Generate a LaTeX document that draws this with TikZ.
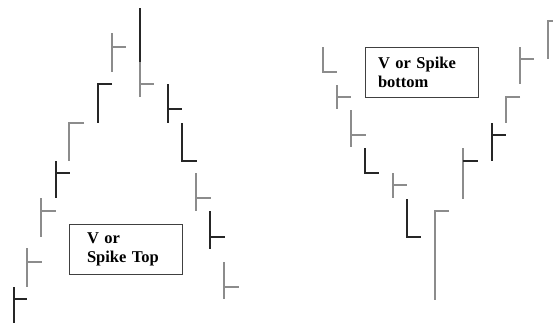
\documentclass[tikz,border=0pt]{standalone}
\usepackage{fontspec}
\setmainfont{Liberation Serif}

\tikzset{
  blk/.style={line width=1.3pt, color=black!85},
  gry/.style={line width=1.3pt, color=black!45},
  lbl/.style={draw, line width=0.9pt, color=black!75, text=black, font=\bfseries\fontsize{16.5}{19}\selectfont, align=left, minimum height=50pt, inner ysep=0pt}
}

\begin{document}
\begin{tikzpicture}[x=1pt, y=-1pt]
\useasboundingbox (0,0) rectangle (553,325);

% left: spike top
\draw [blk] (14,287) -- (14,323) (14,299) -- (27,299);
\draw [gry] (27,248) -- (27,287) (27,262) -- (42,262);
\draw [gry] (41,198) -- (41,237) (41,211) -- (56,211);
\draw [blk] (56,161) -- (56,198) (56,173) -- (70,173);
\draw [gry] (84,123) -- (69,123) -- (69,161);
\draw [blk] (112,84) -- (98,84) -- (98,123);
\draw [gry] (112,33) -- (112,72) (112,47) -- (126,47);
\draw [blk] (140,8) -- (140,62);
\draw [gry] (140,62) -- (140,97) (140,84) -- (154,84);
\draw [blk] (168,84) -- (168,123) (168,109) -- (182,109);
\draw [blk] (182,123) -- (182,161) -- (197,161);
\draw [gry] (196,173) -- (196,211) (196,198) -- (211,198);
\draw [blk] (210,211) -- (210,249) (210,237) -- (225,237);
\draw [gry] (224,262) -- (224,299) (224,287) -- (239,287);

\node [lbl, text width=77pt, inner xsep=18pt] (top) at (125.5,249) {V or\\Spike Top};

% right: spike bottom
\draw [gry] (323,47) -- (323,72) -- (337,72);
\draw [gry] (337,85) -- (337,109) (337,97) -- (351,97);
\draw [gry] (351,110) -- (351,147) (351,135) -- (366,135);
\draw [blk] (365,148) -- (365,173) -- (379,173);
\draw [gry] (393,173) -- (393,198) (393,185) -- (407,185);
\draw [blk] (407,199) -- (407,237) -- (421,237);
\draw [gry] (449,211) -- (435,211) -- (435,300);
\draw [gry] (463,148) -- (463,199);
\draw [blk] (463,161) -- (478,161);
\draw [blk] (492,123) -- (492,161) (492,135) -- (506,135);
\draw [gry] (520,97) -- (506,97) -- (506,123);
\draw [gry] (520,47) -- (520,84) (520,59) -- (534,59);
\draw [gry] (553,21) -- (548,21) -- (548,59);

\node [lbl, text width=87pt, inner xsep=13pt] (bottom) at (421.5,72) {V or Spike\\bottom};
\end{tikzpicture}
\end{document}
